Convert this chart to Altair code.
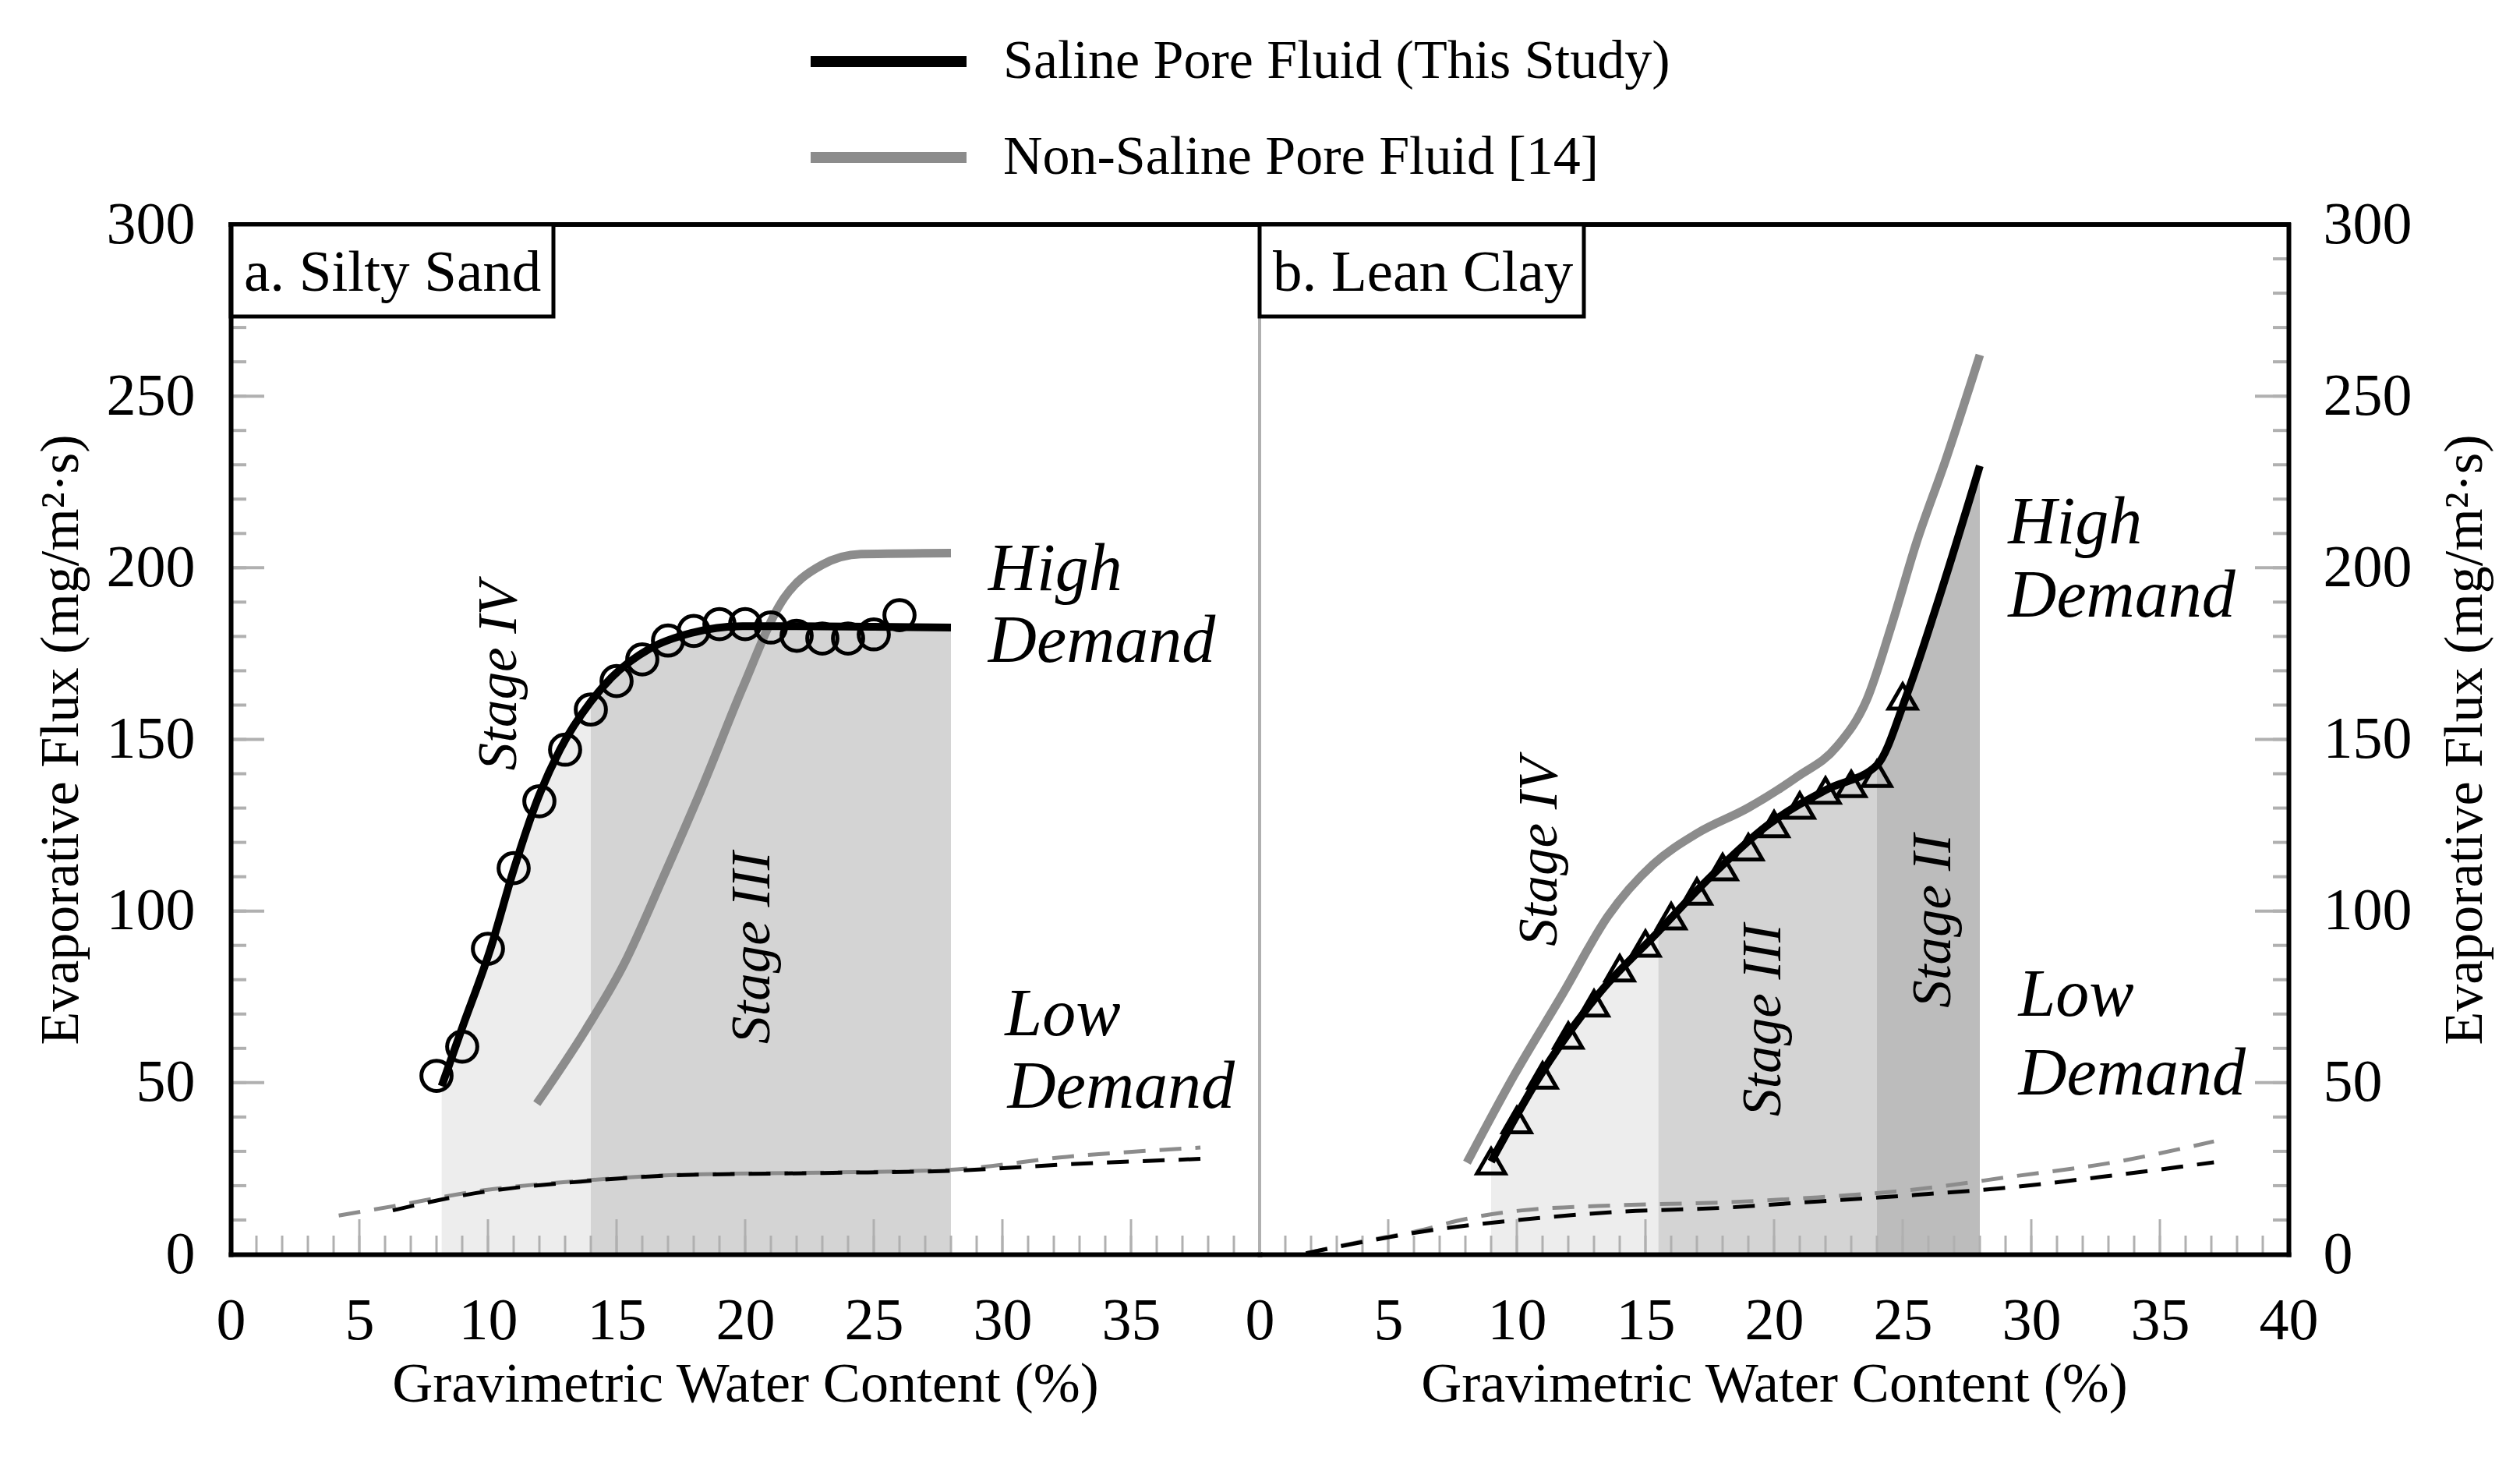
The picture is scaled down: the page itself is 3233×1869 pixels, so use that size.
import altair as alt
import pandas as pd

W, H = 1320, 1321
FONT = "Liberation Serif"
SAL = "Saline Pore Fluid (This Study)"
NS = "Non-Saline Pore Fluid [14]"

# ---------------- data ----------------
# a. Silty Sand
sand_fit_x = [8.2, 9.0, 10.1, 11.0, 11.9, 12.8, 14.0, 14.8, 16.3, 17.9, 19.9, 22.0, 25.0, 28.0]
sand_fit_y = [49, 66, 89, 112, 132, 147, 161, 168, 176.5, 181, 183, 183, 182.8, 182.6]
sand_pts_x = [8, 9, 10, 11, 12, 13, 14, 15, 16, 17, 18, 19, 20, 21, 22, 23, 24, 25, 26]
sand_pts_y = [52, 60.5, 89, 112.5, 132, 147, 158.7, 167, 173.3, 178.8, 181.6, 183.6, 183.6,
              182.6, 180.2, 179.4, 179.4, 180.6, 186.2]
sand_ns_x = [11.9, 13.8, 15.3, 16.8, 18.4, 19.9, 21.4, 23.0, 24.5, 28.0]
sand_ns_y = [43.9, 65.4, 84.7, 109.6, 137.3, 165, 189.9, 200.9, 204, 204.3]
sand_low_sal_x = [6.3, 9.5, 13.6, 17.6, 23.0, 27.9, 32.5, 37.7]
sand_low_sal_y = [12.8, 17.8, 21.2, 23.1, 23.7, 24.3, 26.2, 27.8]
sand_low_ns_x = [4.2, 6.3, 9.5, 13.6, 17.6, 23.0, 27.9, 32.5, 37.7]
sand_low_ns_y = [11.3, 14.0, 18.3, 21.4, 23.2, 23.8, 24.6, 28.4, 31.1]
sand_stage_bounds = [(8.2, 14.0, "IV"), (14.0, 28.0, "III")]

# b. Lean Clay
clay_fit_x = [9.0, 10.9, 13.2, 15.5, 17.4, 19.75, 22.07, 24.0, 25.16, 26.3, 28.0]
clay_fit_y = [27, 52, 76, 94, 109, 125, 135.5, 142.5, 163, 188.5, 229.7]
clay_pts_x = [9, 10, 11, 12, 13, 14, 15, 16, 17, 18, 19, 20, 21, 22, 23, 24, 25]
clay_pts_y = [27.1, 39.1, 52.1, 63.7, 73.1, 83.3, 90.5, 98.5, 105.7, 112.8, 118.6, 125.3,
              130.7, 135.1, 137, 140, 162.5]
clay_ns_x = [8.06, 9.9, 11.8, 13.55, 15.3, 17.0, 19.0, 20.9, 22.45, 23.6, 24.6, 25.5, 26.7, 28.0]
clay_ns_y = [26.7, 52.2, 76.1, 98.6, 113.6, 122.6, 130.1, 139.1, 148, 161.5, 184, 206.5, 232, 262]
clay_low_sal_x = [1.8, 3.8, 6.4, 10.2, 14.0, 17.9, 21.7, 25.5, 29.3, 33.2, 37.1]
clay_low_sal_y = [0.3, 3.3, 6.7, 10.1, 12.4, 13.5, 15.4, 17.3, 19.6, 23.0, 26.8]
clay_low_ns_x = [1.8, 3.8, 6.4, 7.65, 10.2, 14.0, 17.9, 21.7, 25.5, 29.3, 33.2, 37.1]
clay_low_ns_y = [0.3, 3.5, 7.2, 9.7, 12.8, 14.3, 15.1, 16.6, 18.9, 22.7, 26.8, 32.9]
clay_stage_bounds = [(9.0, 15.5, "IV"), (15.5, 24.0, "III"), (24.0, 28.0, "II")]

# annotations: (text, x, y)
sand_stage_txt = [("Stage IV", 10.45, 168.5), ("Stage III", 20.3, 89.3)]
sand_demand_txt = [("High", 29.45, 199.5), ("Demand", 29.45, 178.5),
                   ("Low", 30.1, 69.8), ("Demand", 30.2, 48.6)]
clay_stage_txt = [("Stage IV", 10.9, 117.3), ("Stage III", 19.6, 68.2), ("Stage II", 26.2, 97.1)]
clay_demand_txt = [("High", 29.1, 213), ("Demand", 29.1, 191.6),
                   ("Low", 29.5, 75.4), ("Demand", 29.5, 52.5)]

x_major = list(range(0, 41, 5))
x_minor = list(range(0, 41, 1))
y_major = list(range(0, 301, 50))
y_minor = list(range(0, 301, 10))
left_x_labels = list(range(0, 36, 5))
right_x_labels = list(range(0, 41, 5))

stage_names = ["IV", "III", "II"]
stage_colors = ["#ededed", "#d4d4d4", "#bcbcbc"]
series_colors = ["#000000", "#8c8c8c"]


def df_xy(xs, ys, series=None):
    d = pd.DataFrame({"x": xs, "y": ys})
    if series is not None:
        d["series"] = series
    return d


def stage_area(xs, ys, bounds):
    rows = []
    for a, b, name in bounds:
        for x, y in zip(xs, ys):
            if a - 1e-9 <= x <= b + 1e-9:
                rows.append({"x": x, "y": y, "stage": name})
    return pd.DataFrame(rows)


XSCALE = alt.Scale(domain=[0, 40], nice=False, zero=False)
YSCALE = alt.Scale(domain=[0, 300], nice=False)


def make_panel(side, fit_x, fit_y, pts_x, pts_y, pts_shape, ns_x, ns_y,
               lsal_x, lsal_y, lns_x, lns_y, bounds, stage_txt, demand_txt,
               label, box_w, xlabels):
    xaxis = alt.Axis(values=xlabels, title="Gravimetric Water Content (%)", ticks=False,
                     grid=False, domainColor="black", domainWidth=6, domainCap="square",
                     labelFont=FONT, titleFont=FONT, labelFontSize=76, titleFontSize=72,
                     labelColor="black", titleColor="black", titleFontWeight="normal",
                     labelPadding=48, titlePadding=8, labelFlush=False, labelOverlap=False,
                     zindex=1)
    if side == "left":
        yaxis = alt.Axis(values=y_major, orient="left", title="Evaporative Flux (mg/m²·s)",
                         ticks=False, grid=False, domainColor="black", domainWidth=6,
                         domainCap="square", labelFont=FONT, titleFont=FONT,
                         labelFontSize=76, titleFontSize=70, labelColor="black",
                         titleColor="black", titleFontWeight="normal", labelPadding=46,
                         titlePadding=22, labelFlush=False, labelOverlap=False, zindex=1)
    else:
        yaxis = alt.Axis(values=y_major, orient="right", title="Evaporative Flux (mg/m²·s)",
                         ticks=False, grid=False, domainColor="black", domainWidth=6,
                         domainCap="square", labelFont=FONT, titleFont=FONT,
                         labelFontSize=76, titleFontSize=70, labelColor="black",
                         titleColor="black", titleFontWeight="normal", labelPadding=44,
                         titlePadding=34, titleAngle=270, titleBaseline="top",
                         labelFlush=False, labelOverlap=False, zindex=1)

    def X(f="x"):
        return alt.X(f"{f}:Q", scale=XSCALE, axis=xaxis)

    def Y(f="y"):
        return alt.Y(f"{f}:Q", scale=YSCALE, axis=yaxis, stack=None)

    color = alt.Color("series:N", scale=alt.Scale(domain=[SAL, NS], range=series_colors),
                      legend=alt.Legend(orient="none", legendX=787, legendY=-266,
                                        direction="vertical", title=None,
                                        symbolType="M-2,0L2,0", symbolSize=10000,
                                        symbolStrokeWidth=14, labelFont=FONT,
                                        labelFontSize=70, labelColor="black",
                                        labelOffset=90, rowPadding=31, padding=0,
                                        labelLimit=0))

    area = alt.Chart(stage_area(fit_x, fit_y, bounds)).mark_area(
        interpolate="monotone").encode(
        x=X(), y=Y(),
        fill=alt.Fill("stage:N", scale=alt.Scale(domain=stage_names, range=stage_colors),
                      legend=None))

    dash_ns = alt.Chart(df_xy(lns_x, lns_y)).mark_line(
        interpolate="monotone", color="#8c8c8c", strokeWidth=5, strokeDash=[28, 18]
    ).encode(x=X(), y=Y())
    dash_sal = alt.Chart(df_xy(lsal_x, lsal_y)).mark_line(
        interpolate="monotone", color="#000000", strokeWidth=5, strokeDash=[28, 18]
    ).encode(x=X(), y=Y())

    ns_line = alt.Chart(df_xy(ns_x, ns_y, NS)).mark_line(
        interpolate="monotone", strokeWidth=11).encode(x=X(), y=Y(), color=color)
    sal_line = alt.Chart(df_xy(fit_x, fit_y, SAL)).mark_line(
        interpolate="monotone", strokeWidth=10).encode(x=X(), y=Y(), color=color)

    pts = alt.Chart(df_xy(pts_x, pts_y)).mark_point(
        shape=pts_shape, filled=False, color="black", strokeWidth=5,
        size=1500 if pts_shape == "circle" else 1300, opacity=1).encode(x=X(), y=Y())

    tick_col = "#b0b0b0"
    xt_min = alt.Chart(pd.DataFrame({"x": x_minor})).mark_rule(
        color=tick_col, strokeWidth=3).encode(x=X(), y=alt.value(H), y2=alt.value(H - 24))
    xt_maj = alt.Chart(pd.DataFrame({"x": x_major})).mark_rule(
        color=tick_col, strokeWidth=3).encode(x=X(), y=alt.value(H), y2=alt.value(H - 45))
    if side == "left":
        yt_min = alt.Chart(pd.DataFrame({"y": y_minor})).mark_rule(
            color=tick_col, strokeWidth=4).encode(y=Y(), x=alt.value(0), x2=alt.value(20))
        yt_maj = alt.Chart(pd.DataFrame({"y": y_major})).mark_rule(
            color=tick_col, strokeWidth=4).encode(y=Y(), x=alt.value(0), x2=alt.value(43))
    else:
        yt_min = alt.Chart(pd.DataFrame({"y": y_minor})).mark_rule(
            color=tick_col, strokeWidth=4).encode(y=Y(), x=alt.value(W), x2=alt.value(W - 20))
        yt_maj = alt.Chart(pd.DataFrame({"y": y_major})).mark_rule(
            color=tick_col, strokeWidth=4).encode(y=Y(), x=alt.value(W), x2=alt.value(W - 43))

    one = pd.DataFrame({"k": [0]})
    top_rule = alt.Chart(one).mark_rule(color="black", strokeWidth=6, strokeCap="square").encode(
        x=alt.value(0), x2=alt.value(W), y=alt.value(0))
    box = alt.Chart(one).mark_rect(fill="white", stroke="black", strokeWidth=5).encode(
        x=alt.value(0), x2=alt.value(box_w), y=alt.value(0), y2=alt.value(118))
    box_txt = alt.Chart(pd.DataFrame({"t": [label]})).mark_text(
        font=FONT, fontSize=75, align="left", baseline="middle", color="black").encode(
        text="t:N", x=alt.value(17), y=alt.value(62))

    st = pd.DataFrame(stage_txt, columns=["t", "x", "y"])
    stage_layer = alt.Chart(st).mark_text(
        font=FONT, fontSize=71, fontStyle="italic", angle=270, align="center",
        baseline="middle", color="black").encode(x=X(), y=Y(), text="t:N")
    dm = pd.DataFrame(demand_txt, columns=["t", "x", "y"])
    demand_layer = alt.Chart(dm).mark_text(
        font=FONT, fontSize=86, fontStyle="italic", align="left", baseline="middle",
        color="black").encode(x=X(), y=Y(), text="t:N")

    return alt.layer(area, xt_min, xt_maj, yt_min, yt_maj, dash_ns, dash_sal, ns_line,
                     sal_line, pts, stage_layer, demand_layer, top_rule, box, box_txt
                     ).properties(width=W, height=H)


left = make_panel("left", sand_fit_x, sand_fit_y, sand_pts_x, sand_pts_y, "circle",
                  sand_ns_x, sand_ns_y, sand_low_sal_x, sand_low_sal_y,
                  sand_low_ns_x, sand_low_ns_y, sand_stage_bounds,
                  sand_stage_txt, sand_demand_txt, "a. Silty Sand", 414, left_x_labels)
right = make_panel("right", clay_fit_x, clay_fit_y, clay_pts_x, clay_pts_y, "triangle-up",
                   clay_ns_x, clay_ns_y, clay_low_sal_x, clay_low_sal_y,
                   clay_low_ns_x, clay_low_ns_y, clay_stage_bounds,
                   clay_stage_txt, clay_demand_txt, "b. Lean Clay", 416, right_x_labels)

chart = alt.hconcat(left, right, spacing=0, bounds="flush").properties(
    padding={"left": 33, "top": 14, "right": 5, "bottom": 5}, background="white"
).configure_view(stroke="#b0b0b0", strokeWidth=4)

chart.save("out.html", embed_options={"renderer": "svg", "actions": False})
